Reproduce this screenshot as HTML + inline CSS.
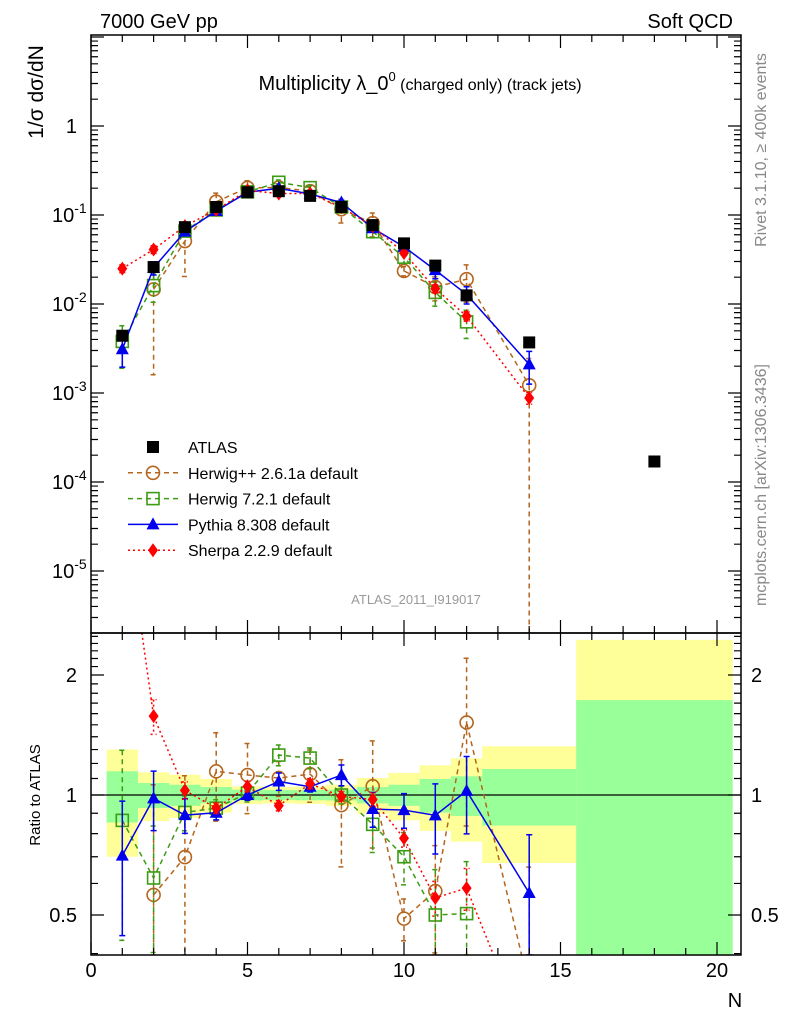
<!DOCTYPE html>
<html><head><meta charset="utf-8"><style>
html,body{margin:0;padding:0;background:#fff;width:786px;height:1024px;overflow:hidden;}
svg{display:block;font-family:"Liberation Sans",sans-serif;}
</style></head><body>
<svg id="chart" width="786" height="1024" viewBox="0 0 786 1024" xmlns="http://www.w3.org/2000/svg">
<defs>
<clipPath id="cm"><rect x="91" y="35" width="650" height="598"/></clipPath>
<clipPath id="cr"><rect x="91" y="633" width="650" height="322"/></clipPath>
</defs>
<g id="bands" clip-path="url(#cr)"></g>
<g id="marks"></g>
<text x="100" y="28" font-size="20">7000 GeV pp</text>
<text x="733" y="28" font-size="20" text-anchor="end">Soft QCD</text>
<text x="420" y="90" font-size="20" text-anchor="middle">Multiplicity λ_0<tspan font-size="13" dy="-9">0</tspan><tspan font-size="16" dy="9"> (charged only) (track jets)</tspan></text>
<text transform="translate(43,92) rotate(-90)" font-size="21" text-anchor="middle">1/σ dσ/dN</text>
<text transform="translate(40,795) rotate(-90)" font-size="15" text-anchor="middle">Ratio to ATLAS</text>
<text transform="translate(766,150) rotate(-90)" font-size="16" fill="#888" text-anchor="middle">Rivet 3.1.10, ≥ 400k events</text>
<text transform="translate(766,485) rotate(-90)" font-size="16" fill="#888" text-anchor="middle">mcplots.cern.ch [arXiv:1306.3436]</text>
<text x="416" y="604" font-size="13" fill="#999" text-anchor="middle">ATLAS_2011_I919017</text>
<text x="735" y="1007" font-size="20" text-anchor="middle">N</text>
</svg>
<script>
const nBins=[1,2,3,4,5,6,7,8,9,10,11,12,14,18];
const atlas=[0.0044,0.026,0.073,0.123,0.18,0.185,0.164,0.123,0.077,0.048,0.027,0.0125,0.0037,0.00017];
const binLo=[0.5,1.5,2.5,3.5,4.5,5.5,6.5,7.5,8.5,9.5,10.5,11.5,12.5,15.5];
const binHi=[1.5,2.5,3.5,4.5,5.5,6.5,7.5,8.5,9.5,10.5,11.5,12.5,15.5,20.5];
const errTot=[0.30,0.14,0.124,0.097,0.051,0.047,0.05,0.061,0.103,0.136,0.187,0.236,0.325,1.45];
const errStat=[0.147,0.072,0.061,0.047,0.031,0.029,0.03,0.031,0.047,0.061,0.097,0.114,0.162,0.73];
const mcN=[1,2,3,4,5,6,7,8,9,10,11,12,14];
const hppVals=[null,0.0146,0.051,0.141,0.202,0.204,0.185,0.116,0.081,0.0235,0.0155,0.019,0.00122];
const hppErr=[null,0.89,0.6,0.25,0.2,0.1,0.15,0.3,0.3,0.12,0.3,0.45,0.9999];
const h7Vals=[0.0038,0.0161,0.066,0.114,0.182,0.233,0.203,0.123,0.065,0.0336,0.0135,0.0063,null];
const h7Err=[0.5,0.35,0.1,0.05,0.05,0.06,0.06,0.05,0.15,0.15,0.3,0.35,null];
const pyVals=[0.0031,0.0255,0.065,0.111,0.18,0.2,0.172,0.138,0.071,0.044,0.024,0.0128,0.0021];
const pyErr=[0.37,0.17,0.1,0.04,0.03,0.05,0.03,0.06,0.1,0.1,0.2,0.22,0.4];
const shVals=[0.025,0.041,0.075,0.114,0.189,0.174,0.175,0.122,0.075,0.0374,0.0149,0.0073,0.00088];
const shErr=[0.1,0.1,0.05,0.03,0.03,0.03,0.03,0.03,0.04,0.05,0.1,0.12,0.15];
const yMainTicks=["1","10","10","10","10","10"];
const yMainExp=["","-1","-2","-3","-4","-5"];
const xTicks=["0","5","10","15","20"];
const ratioTicks=["0.5","1","2"];

const NS='http://www.w3.org/2000/svg';
const X=n=>91+n*31.3;
const Ym=v=>126-89*Math.log10(v);
const Yr=r=>795-398.6*Math.log10(r);
const clampY=(y,top,bot)=>Math.min(Math.max(y,top),bot);
const svg=document.getElementById('chart');
const marks=document.getElementById('marks');
const bands=document.getElementById('bands');
function mk(tag,attrs,parent){const e=document.createElementNS(NS,tag);for(const k in attrs)e.setAttribute(k,attrs[k]);(parent||marks).appendChild(e);return e;}

for(let i=0;i<nBins.length;i++){
  let y1=clampY(Yr(1+errTot[i]),633,955),y2=clampY(Yr(Math.max(1-errTot[i],0.01)),633,955);
  let r=mk('rect',{x:X(binLo[i]),y:y1,width:X(binHi[i])-X(binLo[i]),height:y2-y1,fill:'#ffff99'},bands);
  
  
}
for(let i=0;i<nBins.length;i++){
  let y1=clampY(Yr(1+errStat[i]),633,955),y2=clampY(Yr(Math.max(1-errStat[i],0.01)),633,955);
  let r=mk('rect',{x:X(binLo[i]),y:y1,width:X(binHi[i])-X(binLo[i]),height:y2-y1,fill:'#99ff99'},bands);
  
  
}
let one=mk('line',{x1:91,x2:741,y1:Yr(1),y2:Yr(1),stroke:'#000','stroke-width':1.3});



const gm=mk('g',{'clip-path':'url(#cm)'});


const gr=mk('g',{'clip-path':'url(#cr)'});



function marker(type,x,y,color,parent,name){
  let e;
  if(type==='sq') e=mk('rect',{x:x-6,y:y-6,width:12,height:12,fill:color},parent);
  else if(type==='osq') e=mk('rect',{x:x-6,y:y-6,width:12,height:12,fill:'none',stroke:color,'stroke-width':1.6},parent);
  else if(type==='oc') e=mk('circle',{cx:x,cy:y,r:6.5,fill:'none',stroke:color,'stroke-width':1.6},parent);
  else if(type==='tri') e=mk('polygon',{points:`${x},${y-7} ${x-6.5},${y+5} ${x+6.5},${y+5}`,fill:color},parent);
  else e=mk('polygon',{points:`${x},${y-7} ${x-5},${y} ${x},${y+7} ${x+5},${y}`,fill:color},parent);
  
  
  return e;
}
const series=[
 {name:'herwigpp',vals:hppVals,err:hppErr,color:'#b5651d',dash:'5,4',m:'oc'},
 {name:'herwig7',vals:h7Vals,err:h7Err,color:'#3c9c14',dash:'5,4',m:'osq'},
 {name:'pythia',vals:pyVals,err:pyErr,color:'#0000ee',dash:'',m:'tri'},
 {name:'sherpa',vals:shVals,err:shErr,color:'#ff0000',dash:'2,3',m:'dia'}
];
function drawSeries(s,isRatio){
  const g=isRatio?gr:gm;
  const top=isRatio?633:35,bot=isRatio?955:633;
  let pts=[];
  for(let i=0;i<mcN.length;i++){
    if(s.vals[i]==null)continue;
    const ai=nBins.indexOf(mcN[i]);
    const v=isRatio?s.vals[i]/atlas[ai]:s.vals[i];
    const Yf=isRatio?Yr:Ym;
    const x=X(mcN[i]),y=Yf(v);
    pts.push([x,y]);
    const lo=Math.max(v*(1-s.err[i]),1e-9),hi=v*(1+s.err[i]);
    const yh=clampY(Yf(hi),top,bot),yl=clampY(Yf(lo),top,bot);
    const eb=mk('path',{d:`M${x},${yh}V${yl}M${x-3},${yh}h6M${x-3},${yl}h6`,stroke:s.color,'stroke-width':1.5,'stroke-dasharray':s.dash,fill:'none'},g);
    
    
  }
  const l=mk('polyline',{points:pts.map(p=>p.join(',')).join(' '),fill:'none',stroke:s.color,'stroke-width':1.5,'stroke-dasharray':s.dash},g);
  
  
  pts.forEach(p=>{if(p[1]>top-10&&p[1]<bot+10)marker(s.m,p[0],p[1],s.color,g,s.name+'-point');});
}
series.forEach(s=>drawSeries(s,false));
series.forEach(s=>drawSeries(s,true));
for(let i=0;i<nBins.length;i++){ marker('sq',X(nBins[i]),Ym(atlas[i]),'#000',gm,'atlas-point'); }

for(const [y0,h,n] of [[35,598,'main-frame'],[633,322,'ratio-frame']]){
  const f=mk('rect',{x:91,y:y0,width:650,height:h,fill:'none',stroke:'#000','stroke-width':1.5});
  
  
}
let tp='';
for(let n=0;n<=20;n++){const x=X(n),L=n%5==0?13:7;
  tp+=`M${x},35v${L}M${x},633v-${L}M${x},633v${L}M${x},955v-${L}`;}
for(let d=-6;d<=1;d++){for(let k=1;k<10;k++){const v=k*Math.pow(10,d),y=Ym(v);if(y<35||y>633)continue;const L=k==1?13:7;tp+=`M91,${y}h${L}M741,${y}h-${L}`;}}
for(const r of [0.4,0.5,0.6,0.7,0.8,0.9,1,1.1,1.2,1.3,1.4,1.5,1.6,1.7,1.8,1.9,2,2.1,2.2,2.3,2.4,2.5]){const y=Yr(r);if(y<633||y>955)continue;const L=(r==0.5||r==1||r==2)?13:7;tp+=`M91,${y}h${L}M741,${y}h-${L}`;}
const tk=mk('path',{d:tp,stroke:'#000','stroke-width':1.2,fill:'none'});



xTicks.forEach(t=>{const e=mk('text',{x:X(+t),y:977,'font-size':20,'text-anchor':'middle'});e.textContent=t;
  
  });
yMainTicks.forEach((t,i)=>{const y=Ym(Math.pow(10,-i));const e=mk('text',{x:i==0?77:52,y:y+7,'font-size':20,'text-anchor':i==0?'end':'start'});
  e.textContent=t;
  if(yMainExp[i]){const s=document.createElementNS(NS,'tspan');s.setAttribute('font-size',14);s.setAttribute('dy',-9);s.textContent=yMainExp[i];e.appendChild(s);}
  
  });
ratioTicks.forEach(t=>{const y=Yr(+t);
  for(const [x,a] of [[77,'end'],[751,'start']]){const e=mk('text',{x:x,y:y+7,'font-size':20,'text-anchor':a});e.textContent=t;
  
  }});

const legNames=['ATLAS','Herwig++ 2.6.1a default','Herwig 7.2.1 default','Pythia 8.308 default','Sherpa 2.2.9 default'];
const legM=['sq','oc','osq','tri','dia'];
const legC=['#000','#b5651d','#3c9c14','#0000ee','#ff0000'];
const legD=[null,'5,4','5,4','','2,3'];
legNames.forEach((nm,i)=>{const y=447+i*25.8;
  const g=mk('g',{});
  
  
  if(legD[i]!==null){mk('line',{x1:128,x2:178,y1:y,y2:y,stroke:legC[i],'stroke-width':1.5,'stroke-dasharray':legD[i]},g);}
  marker(legM[i],153,y,legC[i],g,'legend-marker');
  const t=mk('text',{x:188,y:y+6,'font-size':16},g);t.textContent=nm;
});
</script>
</body></html>
